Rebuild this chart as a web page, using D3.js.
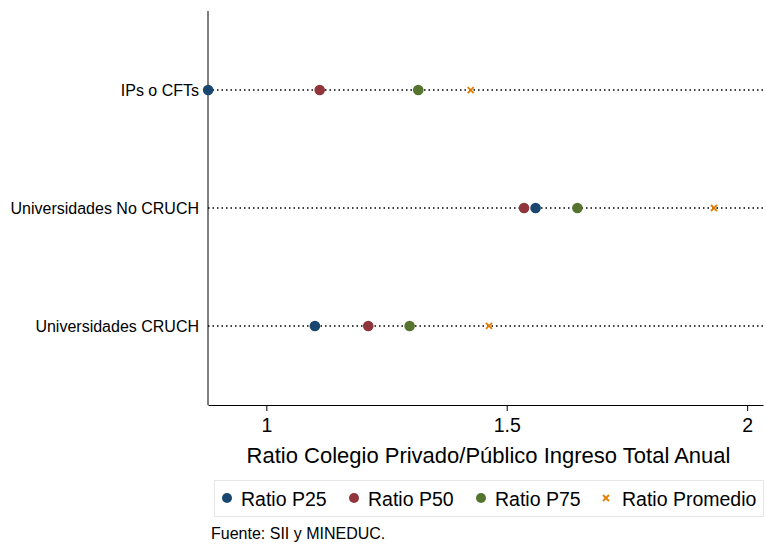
<!DOCTYPE html>
<html><head><meta charset="utf-8">
<script src="https://cdn.jsdelivr.net/npm/d3@7"></script>
<style>body{margin:0;background:#fff}svg{display:block;font-family:"Liberation Sans",Arial,sans-serif}</style>
</head><body><svg id="c" width="765" height="545"></svg>
<script>
const categories = ["IPs o CFTs", "Universidades No CRUCH", "Universidades CRUCH"];
const seriesNames = ["Ratio P25", "Ratio P50", "Ratio P75", "Ratio Promedio"];
const p25 = [0.879, 1.560, 1.101];
const p50 = [1.111, 1.536, 1.212];
const p75 = [1.316, 1.647, 1.298];
const promedio = [1.425, 1.931, 1.463];
const xTicks = [1, 1.5, 2];
const xDomain = [0.8787, 2.033];
const colors = ["#1a476f", "#90353b", "#55752f", "#e37e00"];
const series = [p25, p50, p75, promedio];

const svg = d3.select("#c");
const L = 208, R = 763, T = 11, B = 405;
const x = d3.scaleLinear().domain(xDomain).range([L, R]);
const y = d3.scalePoint().domain(categories).range([T, B]).padding(0.67);

// dotted lines
svg.append("g").selectAll("line").data(categories).join("line")
  .attr("x1", L).attr("x2", R).attr("y1", d => y(d)).attr("y2", d => y(d))
  .attr("stroke", "#000").attr("stroke-width", 1.5).attr("stroke-dasharray", "1.5,3");

// axes
const xAxis = svg.append("g").attr("transform", `translate(0,${B})`)
  .call(d3.axisBottom(x).tickValues(xTicks).tickFormat(d => String(d)).tickSize(6).tickSizeOuter(0));
xAxis.select(".domain").attr("stroke", "#000");
xAxis.selectAll(".tick line").attr("stroke", "#000");
xAxis.selectAll("text").attr("font-size", 19.5).attr("fill", "#000").attr("y", 26.5).attr("dy", 0);

const yAxis = svg.append("g").attr("transform", `translate(${L},0)`)
  .call(d3.axisLeft(y).tickSize(0).tickSizeOuter(0).tickPadding(9));
yAxis.select(".domain").attr("stroke", "#000").attr("d", `M0,${T}V${B}`);
yAxis.selectAll("text").attr("font-size", 16).attr("fill", "#000");

// points
series.forEach((s, i) => {
  const g = svg.append("g");
  if (i < 3) {
    g.selectAll("circle").data(categories).join("circle")
      .attr("cx", (d, k) => x(s[k])).attr("cy", d => y(d)).attr("r", 5.3)
      .attr("fill", colors[i]);
  } else {
    g.selectAll("path").data(categories).join("path")
      .attr("d", (d, k) => { const cx = x(s[k]), cy = y(d), h = 3; return `M${cx-h},${cy-h}L${cx+h},${cy+h}M${cx-h},${cy+h}L${cx+h},${cy-h}`; })
      .attr("stroke", colors[i]).attr("stroke-width", 1.8);
  }
});

// axis title
svg.append("text").attr("x", 488.5).attr("y", 463).attr("text-anchor", "middle")
  .attr("font-size", 22).attr("fill", "#000").text("Ratio Colegio Privado/Público Ingreso Total Anual");

// legend
svg.append("rect").attr("x", 214.5).attr("y", 480.5).attr("width", 549).attr("height", 36)
  .attr("fill", "#fff").attr("stroke", "#e6e6e6");
const legX = [227, 354, 481, 606];
const lg = svg.append("g").selectAll("g").data(seriesNames).join("g")
  .attr("transform", (d, i) => `translate(${legX[i]},498)`);
lg.each(function (d, i) {
  const g = d3.select(this);
  if (i < 3) g.append("circle").attr("r", 5).attr("fill", colors[i]);
  else g.append("path").attr("d", "M-3,-3L3,3M-3,3L3,-3").attr("stroke", colors[i]).attr("stroke-width", 1.8);
  g.append("text").attr("x", i < 3 ? 14 : 16).attr("y", 7.5).attr("font-size", 19.5).attr("fill", "#000").text(d);
});

svg.append("text").attr("x", 211).attr("y", 539).attr("font-size", 16).attr("fill", "#000").text("Fuente: SII y MINEDUC.");
</script></body></html>
